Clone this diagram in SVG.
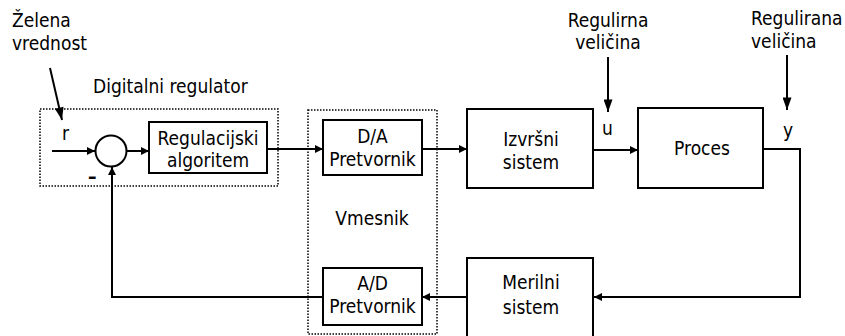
<svg xmlns="http://www.w3.org/2000/svg" width="845" height="336" viewBox="0 0 845 336">
  <style>
    text { font-family: "DejaVu Sans Condensed", "DejaVu Sans", sans-serif; font-size: 19px; fill: #000; }
    .mid { text-anchor: middle; }
    .box { fill: #fff; stroke: #000; stroke-width: 2; }
    .group { fill: none; stroke: #000; stroke-width: 1.5; stroke-dasharray: 1.5 1.5; }
    .wire { fill: none; stroke: #000; stroke-width: 2; }
  </style>
  <defs>
    <!-- small head for signal-flow lines -->
    <marker id="arrow" viewBox="0 0 10 10" refX="10" refY="5" markerWidth="4.5" markerHeight="4" orient="auto" markerUnits="strokeWidth">
      <path d="M0,0 L10,5 L0,10 z" fill="#000"/>
    </marker>
    <!-- longer head for the annotation pointers -->
    <marker id="pointer" viewBox="0 0 14 10" refX="14" refY="5" markerWidth="7" markerHeight="4.5" orient="auto" markerUnits="strokeWidth">
      <path d="M0,0 L14,5 L0,10 z" fill="#000"/>
    </marker>
  </defs>
  <rect width="845" height="336" fill="#fff"/>

  <!-- dotted group frames -->
  <g id="digital-regulator">
    <rect class="group" x="40" y="109" width="238" height="77"/>
    <text x="93" y="93">Digitalni regulator</text>
  </g>
  <g id="interface">
    <rect class="group" x="308" y="110" width="129" height="224"/>
    <text class="mid" x="372" y="225">Vmesnik</text>
  </g>

  <!-- signal labels -->
  <g id="setpoint-label">
    <text x="12" y="27">Želena</text>
    <text x="12" y="50">vrednost</text>
  </g>
  <g id="control-label">
    <text class="mid" x="608" y="27">Regulirna</text>
    <text class="mid" x="608" y="49">veličina</text>
  </g>
  <g id="output-label">
    <text x="751" y="25">Regulirana</text>
    <text x="751" y="48">veličina</text>
  </g>
  <text x="62" y="140">r</text>
  <text x="602" y="135">u</text>
  <text x="783" y="137">y</text>
  <text x="88" y="183" font-weight="bold">–</text>

  <!-- nodes -->
  <g id="sum">
    <circle cx="111" cy="151" r="15.5" fill="#fff" stroke="#000" stroke-width="2"/>
  </g>
  <g id="algorithm">
    <rect class="box" x="149" y="122" width="118" height="51"/>
    <text class="mid" x="208" y="145">Regulacijski</text>
    <text class="mid" x="208" y="167">algoritem</text>
  </g>
  <g id="da">
    <rect class="box" x="323" y="120" width="99" height="55"/>
    <text class="mid" x="372.5" y="143">D/A</text>
    <text class="mid" x="372.5" y="166">Pretvornik</text>
  </g>
  <g id="ad">
    <rect class="box" x="323" y="268" width="99" height="57"/>
    <text class="mid" x="372.5" y="290">A/D</text>
    <text class="mid" x="372.5" y="313">Pretvornik</text>
  </g>
  <g id="actuator">
    <rect class="box" x="467" y="109" width="126" height="79"/>
    <text class="mid" x="531" y="146">Izvršni</text>
    <text class="mid" x="531" y="169">sistem</text>
  </g>
  <g id="process">
    <rect class="box" x="638" y="108" width="125" height="80"/>
    <text class="mid" x="702" y="155">Proces</text>
  </g>
  <g id="sensor">
    <rect class="box" x="467" y="258" width="126" height="80"/>
    <text class="mid" x="531" y="289">Merilni</text>
    <text class="mid" x="531" y="314">sistem</text>
  </g>

  <!-- connectors -->
  <g id="connectors">
    <line class="wire" x1="50" y1="68" x2="62" y2="120" marker-end="url(#pointer)"/>
    <line class="wire" x1="608" y1="57" x2="608" y2="112" marker-end="url(#pointer)"/>
    <line class="wire" x1="787" y1="55" x2="787" y2="110" marker-end="url(#pointer)"/>
    <line class="wire" x1="52" y1="151" x2="95" y2="151" marker-end="url(#arrow)"/>
    <line class="wire" x1="126.5" y1="151" x2="149" y2="151" marker-end="url(#arrow)"/>
    <line class="wire" x1="267" y1="149" x2="323" y2="149" marker-end="url(#arrow)"/>
    <line class="wire" x1="422" y1="149" x2="467" y2="149" marker-end="url(#arrow)"/>
    <line class="wire" x1="593" y1="150" x2="638" y2="150" marker-end="url(#arrow)"/>
    <polyline class="wire" points="763,149 800,149 800,297 594,297" marker-end="url(#arrow)"/>
    <line class="wire" x1="467" y1="297" x2="422" y2="297" marker-end="url(#arrow)"/>
    <polyline class="wire" points="323,297 112,297 112,167" marker-end="url(#arrow)"/>
  </g>
</svg>
